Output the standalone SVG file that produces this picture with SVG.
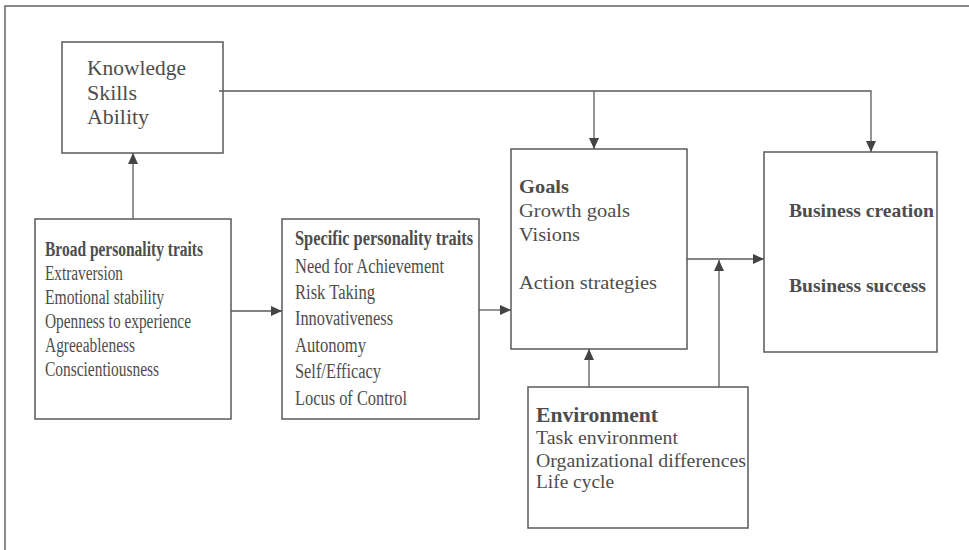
<svg xmlns="http://www.w3.org/2000/svg" width="969" height="550" viewBox="0 0 969 550">
<style>
.box{fill:#fff;stroke:#5a5a5a;stroke-width:1.5}
.t{font-family:"Liberation Serif","Times New Roman",serif;font-size:19px;fill:#4d4d4d}
.l{font-size:20px}
.b{font-weight:bold}
.c{fill:none;stroke:#5a5a5a;stroke-width:1.3}
.frame{fill:none;stroke:#666;stroke-width:1.5}
</style>
<defs>
<marker id="ah" markerUnits="userSpaceOnUse" markerWidth="12" markerHeight="12" viewBox="0 0 12 12" refX="11" refY="6" orient="auto">
<path d="M0,1 L11,6 L0,11 Z" fill="#444"/>
</marker>
</defs>
<path class="frame" d="M5,550 V6 H969"/>
<g id="ksa">
<rect class="box" x="62" y="42" width="161" height="111"/>
<text class="t l" x="87" y="75" textLength="99" lengthAdjust="spacingAndGlyphs">Knowledge</text>
<text class="t l" x="87" y="100" textLength="50" lengthAdjust="spacingAndGlyphs">Skills</text>
<text class="t l" x="87" y="124" textLength="62" lengthAdjust="spacingAndGlyphs">Ability</text>
</g>
<g id="broad">
<rect class="box" x="35" y="219" width="196" height="200"/>
<text class="t b l" x="45" y="256" textLength="158" lengthAdjust="spacingAndGlyphs">Broad personality traits</text>
<text class="t l" x="45" y="280" textLength="78" lengthAdjust="spacingAndGlyphs">Extraversion</text>
<text class="t l" x="45" y="304" textLength="119" lengthAdjust="spacingAndGlyphs">Emotional stability</text>
<text class="t l" x="45" y="328" textLength="146" lengthAdjust="spacingAndGlyphs">Openness to experience</text>
<text class="t l" x="45" y="352" textLength="90" lengthAdjust="spacingAndGlyphs">Agreeableness</text>
<text class="t l" x="45" y="376" textLength="114" lengthAdjust="spacingAndGlyphs">Conscientiousness</text>
</g>
<g id="specific">
<rect class="box" x="282" y="219" width="197" height="200"/>
<text class="t b l" x="295" y="245" textLength="178" lengthAdjust="spacingAndGlyphs">Specific personality traits</text>
<text class="t l" x="295" y="273" textLength="149" lengthAdjust="spacingAndGlyphs">Need for Achievement</text>
<text class="t l" x="295" y="299" textLength="80" lengthAdjust="spacingAndGlyphs">Risk Taking</text>
<text class="t l" x="295" y="325" textLength="98" lengthAdjust="spacingAndGlyphs">Innovativeness</text>
<text class="t l" x="295" y="352" textLength="71" lengthAdjust="spacingAndGlyphs">Autonomy</text>
<text class="t l" x="295" y="378" textLength="86" lengthAdjust="spacingAndGlyphs">Self/Efficacy</text>
<text class="t l" x="295" y="405" textLength="112" lengthAdjust="spacingAndGlyphs">Locus of Control</text>
</g>
<g id="goals">
<rect class="box" x="511" y="149" width="176" height="200"/>
<text class="t b" x="519" y="193" textLength="50" lengthAdjust="spacingAndGlyphs">Goals</text>
<text class="t" x="519" y="217" textLength="111" lengthAdjust="spacingAndGlyphs">Growth goals</text>
<text class="t" x="519" y="241" textLength="61" lengthAdjust="spacingAndGlyphs">Visions</text>
<text class="t" x="519" y="289" textLength="138" lengthAdjust="spacingAndGlyphs">Action strategies</text>
</g>
<g id="business">
<rect class="box" x="764" y="152" width="173" height="200"/>
<text class="t b" x="789" y="217" textLength="145" lengthAdjust="spacingAndGlyphs">Business creation</text>
<text class="t b" x="789" y="292" textLength="137" lengthAdjust="spacingAndGlyphs">Business success</text>
</g>
<g id="environment">
<rect class="box" x="528" y="387" width="220" height="141"/>
<text class="t b l" x="536" y="422" textLength="122" lengthAdjust="spacingAndGlyphs">Environment</text>
<text class="t" x="536" y="444" textLength="142" lengthAdjust="spacingAndGlyphs">Task environment</text>
<text class="t" x="536" y="467" textLength="210" lengthAdjust="spacingAndGlyphs">Organizational differences</text>
<text class="t" x="536" y="488" textLength="78" lengthAdjust="spacingAndGlyphs">Life cycle</text>
</g>
<g id="connectors">
<path class="c" d="M133,219 V153" marker-end="url(#ah)"/>
<path class="c" d="M219,91 H871 V152" marker-end="url(#ah)"/>
<path class="c" d="M594,91 V149" marker-end="url(#ah)"/>
<path class="c" d="M231,311 H282" marker-end="url(#ah)"/>
<path class="c" d="M479,310 H511" marker-end="url(#ah)"/>
<path class="c" d="M687,259 H764" marker-end="url(#ah)"/>
<path class="c" d="M589,387 V349" marker-end="url(#ah)"/>
<path class="c" d="M719,387 V260" marker-end="url(#ah)"/>
</g>
</svg>
